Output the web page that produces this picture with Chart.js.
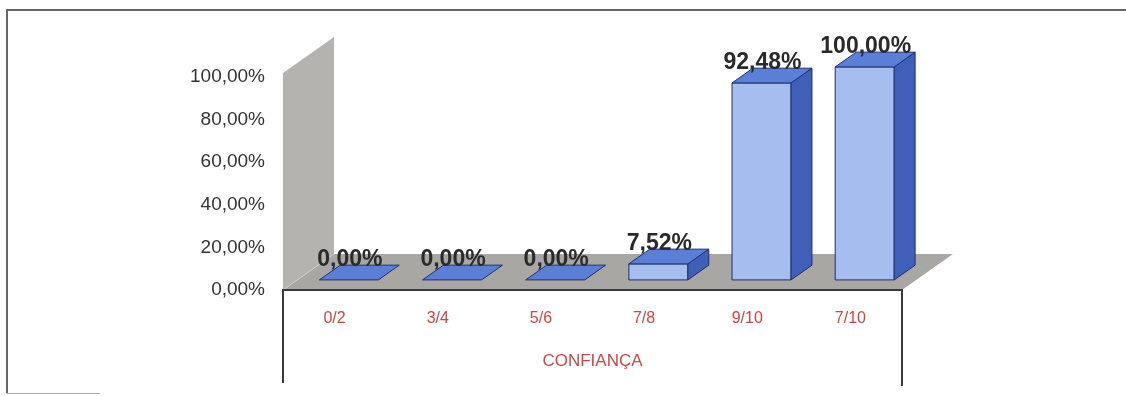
<!DOCTYPE html>
<html>
<head>
<meta charset="utf-8">
<script src="https://cdn.jsdelivr.net/npm/chart.js@4"></script>
<style>
  body { margin: 0; background: #fff; }
  canvas { display: block; }
</style>
</head>
<body>
<canvas id="chart" width="1126" height="396"></canvas>
<script>
// Categories and values
const categories = ['0/2', '3/4', '5/6', '7/8', '9/10', '7/10'];
const values = [0, 0, 0, 7.52, 92.48, 100];
const yTicks = [0, 20, 40, 60, 80, 100];

// depth of the 3D floor, and where the bars sit inside it
const DEPTH = { dx: 51, dy: -36 };
const BAR_FRONT = 0.28;
const BAR_DEPTH = 0.41;

const pct = v => v.toFixed(2).replace('.', ',') + '%';

function poly(ctx, pts, fill, stroke) {
  ctx.beginPath();
  ctx.moveTo(pts[0][0], pts[0][1]);
  for (let i = 1; i < pts.length; i++) ctx.lineTo(pts[i][0], pts[i][1]);
  ctx.closePath();
  if (fill) { ctx.fillStyle = fill; ctx.fill(); }
  if (stroke) { ctx.strokeStyle = stroke; ctx.lineWidth = 1; ctx.stroke(); }
}

// frame, side wall, floor and category box
const scenery = {
  id: 'scenery',
  beforeDatasetsDraw(chart) {
    const ctx = chart.ctx;
    const area = chart.chartArea;
    const y = chart.scales.y;
    const L = area.left, R = area.right;
    const y0 = y.getPixelForValue(0), yTop = y.getPixelForValue(100) - 4;
    ctx.save();

    ctx.strokeStyle = '#666';
    ctx.lineWidth = 2;
    ctx.beginPath();
    ctx.moveTo(7, 393); ctx.lineTo(7, 10); ctx.lineTo(1126, 10);
    ctx.stroke();
    ctx.strokeStyle = '#aaa';
    ctx.lineWidth = 1;
    ctx.beginPath();
    ctx.moveTo(7, 393.5); ctx.lineTo(100, 393.5);
    ctx.stroke();

    // side wall
    poly(ctx, [[L, y0], [L, yTop], [L + DEPTH.dx, yTop + DEPTH.dy], [L + DEPTH.dx, y0 + DEPTH.dy]], '#b5b3af');
    // floor
    poly(ctx, [[L, y0], [R, y0], [R + DEPTH.dx, y0 + DEPTH.dy], [L + DEPTH.dx, y0 + DEPTH.dy]], '#a8a7a3');
    ctx.strokeStyle = '#cfcdc9';
    ctx.beginPath();
    ctx.moveTo(L, y0); ctx.lineTo(L + DEPTH.dx, y0 + DEPTH.dy);
    ctx.stroke();

    // category box
    ctx.strokeStyle = '#3a3a3a';
    ctx.lineWidth = 2;
    ctx.beginPath();
    ctx.moveTo(L, 383); ctx.lineTo(L, y0); ctx.lineTo(R, y0); ctx.lineTo(R, 386);
    ctx.stroke();
    ctx.restore();
  },
  afterDatasetsDraw(chart) {
    const ctx = chart.ctx;
    const meta = chart.getDatasetMeta(0);
    const fx = BAR_FRONT * DEPTH.dx, fy = BAR_FRONT * DEPTH.dy;
    const bx = BAR_DEPTH * DEPTH.dx, by = BAR_DEPTH * DEPTH.dy;
    const edge = '#1f2f6e';
    ctx.save();
    meta.data.forEach((bar, i) => {
      const l = bar.x - bar.width / 2 + fx, r = bar.x + bar.width / 2 + fx;
      const t = bar.y + fy, b = bar.base + fy;
      if (b - t > 0.5) {
        poly(ctx, [[l, t], [r, t], [r, b], [l, b]], '#a6bdf0', edge);
        poly(ctx, [[r, t], [r + bx, t + by], [r + bx, b + by], [r, b]], '#3f5fb8', edge);
      }
      poly(ctx, [[l, t], [l + bx, t + by], [r + bx, t + by], [r, t]], '#5b7fd6', edge);

      ctx.fillStyle = '#2a2a2a';
      ctx.font = 'bold 23px "Liberation Sans", Arial, sans-serif';
      ctx.textAlign = 'center';
      ctx.textBaseline = 'middle';
      ctx.fillText(pct(values[i]), bar.x + fx + 1, t - 20);
    });
    ctx.restore();
  }
};

new Chart(document.getElementById('chart'), {
  type: 'bar',
  data: {
    labels: categories,
    datasets: [{
      data: values,
      backgroundColor: 'rgba(0,0,0,0)',
      borderWidth: 0,
      categoryPercentage: 1,
      barPercentage: 0.572
    }]
  },
  options: {
    responsive: false,
    animation: false,
    events: [],
    layout: { padding: { left: 0, top: 77, right: 224, bottom: 0 } },
    plugins: { legend: { display: false }, tooltip: { enabled: false } },
    scales: {
      x: {
        grid: { display: false, drawTicks: false },
        border: { display: false },
        ticks: {
          color: '#cc4646',
          padding: 19,
          font: { family: '"Liberation Sans", Arial, sans-serif', size: 16 }
        },
        title: {
          display: true,
          text: 'CONFIANÇA',
          color: '#cc4646',
          padding: { top: 0, bottom: 24 },
          font: { family: '"Liberation Sans", Arial, sans-serif', size: 17 }
        },
        afterFit: s => { s.height = 106; }
      },
      y: {
        min: 0,
        max: 100,
        grid: { display: false, drawTicks: false },
        border: { display: false },
        afterBuildTicks: s => { s.ticks = yTicks.map(v => ({ value: v })); },
        ticks: {
          color: '#333',
          padding: 18,
          font: { family: '"Liberation Sans", Arial, sans-serif', size: 19 },
          callback: v => pct(v)
        },
        afterFit: s => { s.width = 283; }
      }
    }
  },
  plugins: [scenery]
});
</script>
</body>
</html>
